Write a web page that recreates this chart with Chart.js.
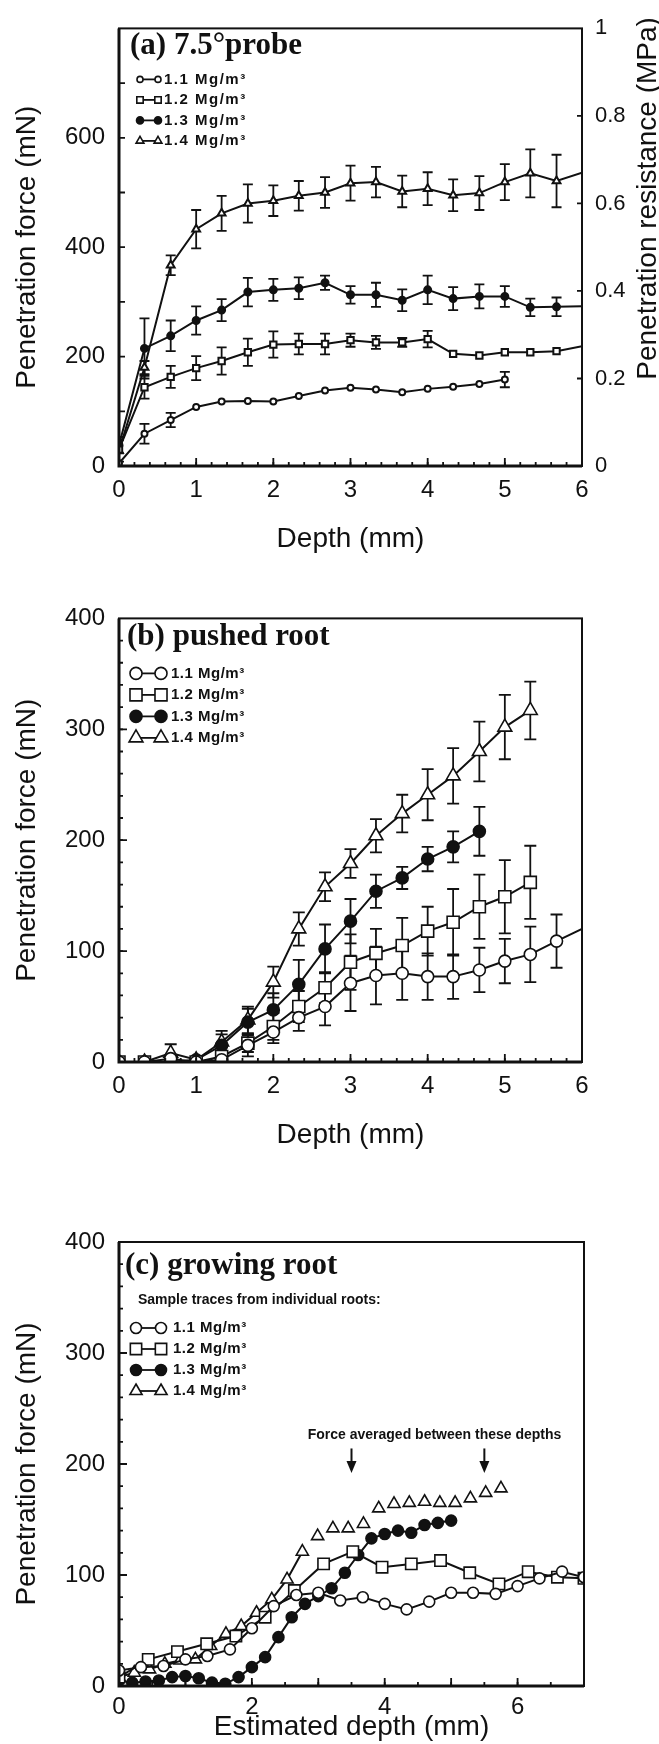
<!DOCTYPE html>
<html lang="en">
<head>
<meta charset="utf-8">
<title>Penetration force vs depth</title>
<script src="https://cdn.jsdelivr.net/npm/chart.js@4.4.1/dist/chart.umd.min.js"></script>
<style>
  html, body { margin: 0; background: #fff; }
  .panel { position: absolute; left: 0; width: 659px; }
  #box-a { top: 0; height: 590px; }
  #box-b { top: 590px; height: 590px; }
  #box-c { top: 1180px; height: 564px; }
</style>
</head>
<body>
<div class="panel" id="box-a"><canvas id="chart-a"></canvas></div>
<div class="panel" id="box-b"><canvas id="chart-b"></canvas></div>
<div class="panel" id="box-c"><canvas id="chart-c"></canvas></div>
<script>
// values
const densityLabels = ['1.1 Mg/m³', '1.2 Mg/m³', '1.3 Mg/m³', '1.4 Mg/m³'];

// (a) 7.5° probe, mean and error bar half-length (mN)
const depthA = [0, 0.33, 0.67, 1, 1.33, 1.67, 2, 2.33, 2.67, 3, 3.33, 3.67, 4, 4.33, 4.67, 5, 5.33, 5.67, 6];
const probe11 = [5, 59, 84, 108, 118, 119, 118, 128, 138, 143, 140, 135, 141, 145, 150, 158];
const probe11Err = [0, 18, 13, 0, 0, 0, 0, 0, 0, 0, 0, 0, 0, 0, 0, 14];
const probe12 = [30, 144, 163, 179, 192, 208, 222, 223, 223, 230, 226, 226, 232, 205, 202, 208, 208, 210, 219];
const probe12Err = [0, 21, 20, 22, 25, 25, 24, 19, 19, 12, 12, 8, 15, 0, 0, 0, 0, 0, 0];
const probe13 = [38, 215, 238, 266, 285, 318, 322, 325, 335, 313, 313, 303, 322, 306, 310, 310, 290, 291, 292];
const probe13Err = [15, 55, 28, 26, 20, 26, 20, 20, 13, 16, 22, 20, 26, 21, 22, 19, 16, 17, 0];
const probe14 = [28, 180, 367, 433, 462, 480, 485, 494, 500, 517, 519, 502, 507, 495, 499, 519, 535, 521, 536];
const probe14Err = [20, 12, 18, 35, 32, 35, 28, 27, 28, 32, 28, 29, 30, 29, 31, 33, 44, 48, 0];

// (b) pushed root
const depthB = [0, 0.33, 0.67, 1, 1.33, 1.67, 2, 2.33, 2.67, 3, 3.33, 3.67, 4, 4.33, 4.67, 5, 5.33, 5.67, 6];
const pushed11 = [0, 0, 3, 0, 2, 15, 27, 40, 50, 71, 78, 80, 77, 77, 83, 91, 97, 109, 120];
const pushed11Err = [0, 0, 0, 0, 0, 10, 10, 12, 17, 25, 26, 24, 21, 20, 20, 20, 25, 24, 0];
const pushed12 = [0, 0, 0, 0, 5, 17, 32, 50, 67, 90, 98, 105, 118, 126, 140, 149, 162];
const pushed12Err = [0, 0, 0, 0, 5, 8, 12, 14, 14, 25, 22, 25, 22, 30, 29, 33, 33];
const pushed13 = [0, 0, 0, 2, 15, 36, 47, 70, 102, 127, 154, 166, 183, 194, 208];
const pushed13Err = [0, 0, 0, 0, 10, 12, 15, 22, 22, 20, 15, 10, 11, 14, 22];
const pushed14 = [0, 0, 8, 2, 18, 38, 72, 120, 158, 179, 204, 224, 241, 258, 280, 302, 317];
const pushed14Err = [0, 0, 8, 0, 10, 12, 14, 15, 13, 13, 15, 17, 23, 25, 27, 29, 26];

// (c) growing root, single traces
const growDepth11 = [0, 0.33, 0.67, 1, 1.33, 1.67, 2, 2.33, 2.67, 3, 3.33, 3.67, 4, 4.33, 4.67, 5, 5.33, 5.67, 6, 6.33, 6.67, 7];
const grow11 = [14, 17, 18, 24, 27, 33, 52, 72, 82, 84, 77, 80, 74, 69, 76, 84, 84, 83, 90, 97, 103, 98];
const growDepth12 = [0, 0.44, 0.88, 1.32, 1.76, 2.2, 2.64, 3.08, 3.52, 3.96, 4.4, 4.84, 5.28, 5.72, 6.16, 6.6, 7];
const grow12 = [8, 24, 31, 38, 45, 62, 86, 110, 121, 107, 110, 113, 102, 92, 103, 98, 97];
const growDepth13 = [0, 0.2, 0.4, 0.6, 0.8, 1, 1.2, 1.4, 1.6, 1.8, 2, 2.2, 2.4, 2.6, 2.8, 3, 3.2, 3.4, 3.6, 3.8, 4, 4.2, 4.4, 4.6, 4.8, 5];
const grow13 = [5, 3, 4, 5, 8, 9, 7, 3, 2, 8, 17, 26, 44, 62, 74, 81, 88, 102, 118, 133, 137, 140, 138, 145, 147, 149];
const growDepth14 = [0, 0.23, 0.46, 0.69, 0.92, 1.15, 1.38, 1.61, 1.84, 2.07, 2.3, 2.53, 2.76, 2.99, 3.22, 3.45, 3.68, 3.91, 4.14, 4.37, 4.6, 4.83, 5.06, 5.29, 5.52, 5.75];
const grow14 = [8, 12, 15, 20, 23, 24, 36, 47, 54, 66, 78, 96, 121, 135, 142, 142, 146, 160, 164, 165, 166, 165, 165, 169, 174, 178];
const arrowDepths = [3.5, 5.5];
const averagingNote = 'Force averaged between these depths';

// tick labels
const depthTicksAB = [0, 1, 2, 3, 4, 5, 6];
const depthTicksC = [0, 2, 4, 6];
const forceTicksA = [0, 200, 400, 600];
const forceTicksBC = [0, 100, 200, 300, 400];
const resistanceTicks = [0, 0.2, 0.4, 0.6, 0.8, 1];

const ink = '#111';
const sans = '"Liberation Sans", Arial, sans-serif';
const shapes = [
  { pointStyle: 'circle', fill: '#fff' },
  { pointStyle: 'rect', fill: '#fff' },
  { pointStyle: 'circle', fill: ink },
  { pointStyle: 'triangle', fill: '#fff' }
];

function series(k, xs, ys, errs, sizes, xMax, extra) {
  const r = sizes[k];
  return Object.assign({
    label: densityLabels[k],
    data: ys.map((y, i) => ({ x: xs[i], y })),
    errors: errs,
    marker: { pointStyle: shapes[k].pointStyle, radius: r, fill: shapes[k].fill },
    showLine: true,
    borderColor: ink,
    borderWidth: 2,
    tension: 0,
    pointStyle: shapes[k].pointStyle,
    pointRadius: c => (c.raw && c.raw.x >= xMax ? 0 : r),
    pointBackgroundColor: shapes[k].fill,
    pointBorderColor: ink,
    pointBorderWidth: sizes.border
  }, extra || {});
}

function figurePlugin(cfg) {
  return {
    id: 'figure',
    beforeDatasetsDraw(chart) {
      const { ctx, chartArea: a, scales: { x, y } } = chart;
      ctx.save();
      ctx.beginPath();
      ctx.rect(a.left, a.top, a.right - a.left, a.bottom - a.top);
      ctx.clip();
      ctx.strokeStyle = ink;
      ctx.lineWidth = 1.8;
      chart.data.datasets.forEach(ds => {
        ds.data.forEach((p, i) => {
          const e = ds.errors && ds.errors[i];
          if (!e) return;
          const px = x.getPixelForValue(p.x);
          const hi = y.getPixelForValue(p.y + e);
          const lo = y.getPixelForValue(Math.max(p.y - e, 0));
          ctx.beginPath();
          ctx.moveTo(px, hi); ctx.lineTo(px, lo);
          ctx.moveTo(px - cfg.cap, hi); ctx.lineTo(px + cfg.cap, hi);
          ctx.moveTo(px - cfg.cap, lo); ctx.lineTo(px + cfg.cap, lo);
          ctx.stroke();
        });
      });
      ctx.restore();
    },
    afterDraw(chart) {
      const { ctx, chartArea: a } = chart;
      ctx.save();
      ctx.strokeStyle = ink;
      ctx.fillStyle = ink;
      ctx.lineWidth = 2;
      ctx.strokeRect(a.left, a.top, a.right - a.left, a.bottom - a.top);
      ctx.lineWidth = 3;
      ctx.beginPath();
      ctx.moveTo(a.left, a.top);
      ctx.lineTo(a.left, a.bottom);
      ctx.lineTo(a.right, a.bottom);
      ctx.stroke();

      // inward tick marks
      ctx.lineWidth = 1.8;
      cfg.marks.forEach(m => {
        const s = chart.scales[m.axis];
        const n = Math.round((s.max - s.min) / m.step);
        ctx.beginPath();
        for (let k = 1; k < n; k++) {
          const p = s.getPixelForValue(s.min + k * m.step);
          if (m.axis === 'x') { ctx.moveTo(p, a.bottom); ctx.lineTo(p, a.bottom - m.len); }
          else if (m.axis === 'y') { ctx.moveTo(a.left, p); ctx.lineTo(a.left + m.len, p); }
          else { ctx.moveTo(a.right, p); ctx.lineTo(a.right - m.len, p); }
        }
        ctx.stroke();
      });

      // panel title
      ctx.textBaseline = 'middle';
      ctx.textAlign = 'left';
      ctx.font = 'bold 31px "Liberation Serif", serif';
      ctx.fillText(cfg.title, a.left + cfg.titleDx, a.top + cfg.titleDy);

      // legend: marker - line - marker, then label
      const L = cfg.legend;
      if (L.header) {
        ctx.font = L.headerFont;
        ctx.fillText(L.header, a.left + L.headerDx, a.top + L.headerDy);
      }
      if ('letterSpacing' in ctx) ctx.letterSpacing = L.spacing;
      chart.data.datasets.forEach((ds, i) => {
        const cy = a.top + L.top + i * L.row;
        const x1 = a.left + L.dx;
        const x2 = x1 + L.span;
        ctx.strokeStyle = ink;
        ctx.lineWidth = 1.8;
        ctx.beginPath();
        ctx.moveTo(x1, cy);
        ctx.lineTo(x2, cy);
        ctx.stroke();
        [x1, x2].forEach(px => {
          ctx.fillStyle = ds.marker.fill;
          ctx.lineWidth = 1.6;
          Chart.helpers.drawPoint(ctx, {
            pointStyle: ds.marker.pointStyle, radius: ds.marker.radius, rotation: 0, borderWidth: 1.6
          }, px, cy);
        });
        ctx.fillStyle = ink;
        ctx.font = L.font;
        ctx.fillText(ds.label, x2 + L.gap, cy);
      });
      if ('letterSpacing' in ctx) ctx.letterSpacing = '0px';

      if (cfg.extra) cfg.extra(chart, ctx, a);
      ctx.restore();
    }
  };
}

function makeChart(id, datasets, c) {
  const scales = {
    x: {
      type: 'linear', min: 0, max: c.xMax,
      afterBuildTicks: s => { s.ticks = c.xTicks.map(value => ({ value })); },
      afterFit: s => { s.height = c.xHeight; },
      grid: { display: false, drawTicks: false },
      border: { display: false },
      ticks: { color: ink, font: { family: sans, size: 24 }, padding: c.xTickPad, maxRotation: 0, autoSkip: false, callback: v => String(v) },
      title: { display: true, text: c.xTitle, color: ink, font: { family: sans, size: 28 }, padding: { top: 0, bottom: c.xTitlePad } }
    },
    y: {
      type: 'linear', min: 0, max: c.yMax,
      afterBuildTicks: s => { s.ticks = c.yTicks.map(value => ({ value })); },
      afterFit: s => { s.width = 119; },
      grid: { display: false, drawTicks: false },
      border: { display: false },
      ticks: { color: ink, font: { family: sans, size: 24 }, padding: 14, autoSkip: false, callback: v => String(v) },
      title: { display: true, text: 'Penetration force (mN)', color: ink, font: { family: sans, size: 28 }, padding: { top: 10, bottom: 0 } }
    }
  };
  if (c.right) {
    scales.y2 = {
      type: 'linear', position: 'right', min: 0, max: c.right.max,
      afterBuildTicks: s => { s.ticks = c.right.ticks.map(value => ({ value })); },
      afterFit: s => { s.width = c.right.width; },
      grid: { display: false, drawTicks: false },
      border: { display: false },
      ticks: { color: ink, font: { family: sans, size: 22 }, padding: 13, autoSkip: false, callback: v => String(v) }
    };
  }
  return new Chart(document.getElementById(id), {
    type: 'scatter',
    data: { datasets },
    options: {
      responsive: true,
      maintainAspectRatio: false,
      animation: false,
      events: [],
      layout: { padding: { top: c.padTop, right: c.padRight, bottom: 0, left: 0 } },
      scales,
      plugins: { legend: { display: false }, tooltip: { enabled: false } }
    },
    plugins: [figurePlugin(c)]
  });
}

// (a)
const sizeA = Object.assign([3, 4.5, 3.5, 4.5], { border: 2 });
makeChart('chart-a', [
  series(0, depthA, probe11, probe11Err, sizeA, 6),
  series(1, depthA, probe12, probe12Err, sizeA, 6),
  series(2, depthA, probe13, probe13Err, sizeA, 6),
  series(3, depthA, probe14, probe14Err, sizeA, 6)
], {
  xMax: 6, xTicks: depthTicksAB, xTitle: 'Depth (mm)', xHeight: 124, xTickPad: 10, xTitlePad: 34,
  yMax: 800, yTicks: forceTicksA, padTop: 16, padRight: 0,
  right: { max: 1, ticks: resistanceTicks, width: 77 },
  marks: [
    { axis: 'x', step: 0.2, len: 4 }, { axis: 'x', step: 1, len: 8 },
    { axis: 'y', step: 100, len: 6 }, { axis: 'y2', step: 0.2, len: 5 }
  ],
  cap: 5,
  title: '(a) 7.5°probe', titleDx: 11, titleDy: 18,
  legend: { top: 51, row: 20.5, dx: 21, span: 18, gap: 6, font: 'bold 15px ' + sans, spacing: '1.5px' },
  extra: (chart, ctx, a) => {
    ctx.save();
    ctx.translate(a.right + 66, a.top + 170);
    ctx.rotate(-Math.PI / 2);
    ctx.font = '28px ' + sans;
    ctx.textAlign = 'center';
    ctx.textBaseline = 'middle';
    ctx.fillStyle = ink;
    ctx.fillText('Penetration resistance (MPa)', 0, 0);
    ctx.restore();
  }
});

// (b)
const sizeB = Object.assign([6, 8.5, 6, 8], { border: 1.6 });
makeChart('chart-b', [
  series(0, depthB, pushed11, pushed11Err, sizeB, 6),
  series(1, depthB, pushed12, pushed12Err, sizeB, 6),
  series(2, depthB, pushed13, pushed13Err, sizeB, 6),
  series(3, depthB, pushed14, pushed14Err, sizeB, 6)
], {
  xMax: 6, xTicks: depthTicksAB, xTitle: 'Depth (mm)', xHeight: 118, xTickPad: 10, xTitlePad: 28,
  yMax: 400, yTicks: forceTicksBC, padTop: 27, padRight: 77,
  marks: [
    { axis: 'x', step: 0.2, len: 4 }, { axis: 'x', step: 1, len: 8 },
    { axis: 'y', step: 20, len: 4 }, { axis: 'y', step: 100, len: 8 }
  ],
  cap: 6,
  title: '(b) pushed root', titleDx: 8, titleDy: 19,
  legend: { top: 55, row: 21.5, dx: 17, span: 25, gap: 10, font: 'bold 15px ' + sans, spacing: '0.5px' }
});

// (c)
const sizeC = Object.assign([5.5, 8, 5.5, 7], { border: 1.6 });
makeChart('chart-c', [
  series(0, growDepth11, grow11, null, sizeC, 99),
  series(1, growDepth12, grow12, null, sizeC, 99),
  series(2, growDepth13, grow13, null, sizeC, 99),
  series(3, growDepth14, grow14, null, sizeC, 99, {
    segment: { borderColor: s => (s.p0.parsed.x > 2.6 ? 'rgba(0,0,0,0)' : ink) }
  })
], {
  xMax: 7, xTicks: depthTicksC, xTitle: 'Estimated depth (mm)', xHeight: 58, xTickPad: 7, xTitlePad: 0,
  yMax: 400, yTicks: forceTicksBC, padTop: 62, padRight: 75,
  marks: [
    { axis: 'x', step: 0.5, len: 4 }, { axis: 'x', step: 1, len: 8 },
    { axis: 'y', step: 20, len: 4 }, { axis: 'y', step: 100, len: 8 }
  ],
  cap: 6,
  title: '(c) growing root', titleDx: 6, titleDy: 24,
  legend: {
    header: 'Sample traces from individual roots:', headerDx: 19, headerDy: 58, headerFont: 'bold 14px ' + sans,
    top: 86, row: 21, dx: 17, span: 25, gap: 12, font: 'bold 15px ' + sans, spacing: '0.5px'
  },
  extra: (chart, ctx) => {
    const x = chart.scales.x, y = chart.scales.y;
    ctx.fillStyle = ink;
    ctx.strokeStyle = ink;
    ctx.font = 'bold 14px ' + sans;
    ctx.textAlign = 'center';
    ctx.textBaseline = 'middle';
    ctx.fillText(averagingNote, x.getPixelForValue(4.75), y.getPixelForValue(226));
    arrowDepths.forEach(d => {
      const px = x.getPixelForValue(d);
      const top = y.getPixelForValue(214);
      const tip = y.getPixelForValue(192);
      ctx.lineWidth = 2;
      ctx.beginPath();
      ctx.moveTo(px, top);
      ctx.lineTo(px, tip - 8);
      ctx.stroke();
      ctx.beginPath();
      ctx.moveTo(px - 5, tip - 12);
      ctx.lineTo(px + 5, tip - 12);
      ctx.lineTo(px, tip);
      ctx.closePath();
      ctx.fill();
    });
  }
});
</script>
</body>
</html>
